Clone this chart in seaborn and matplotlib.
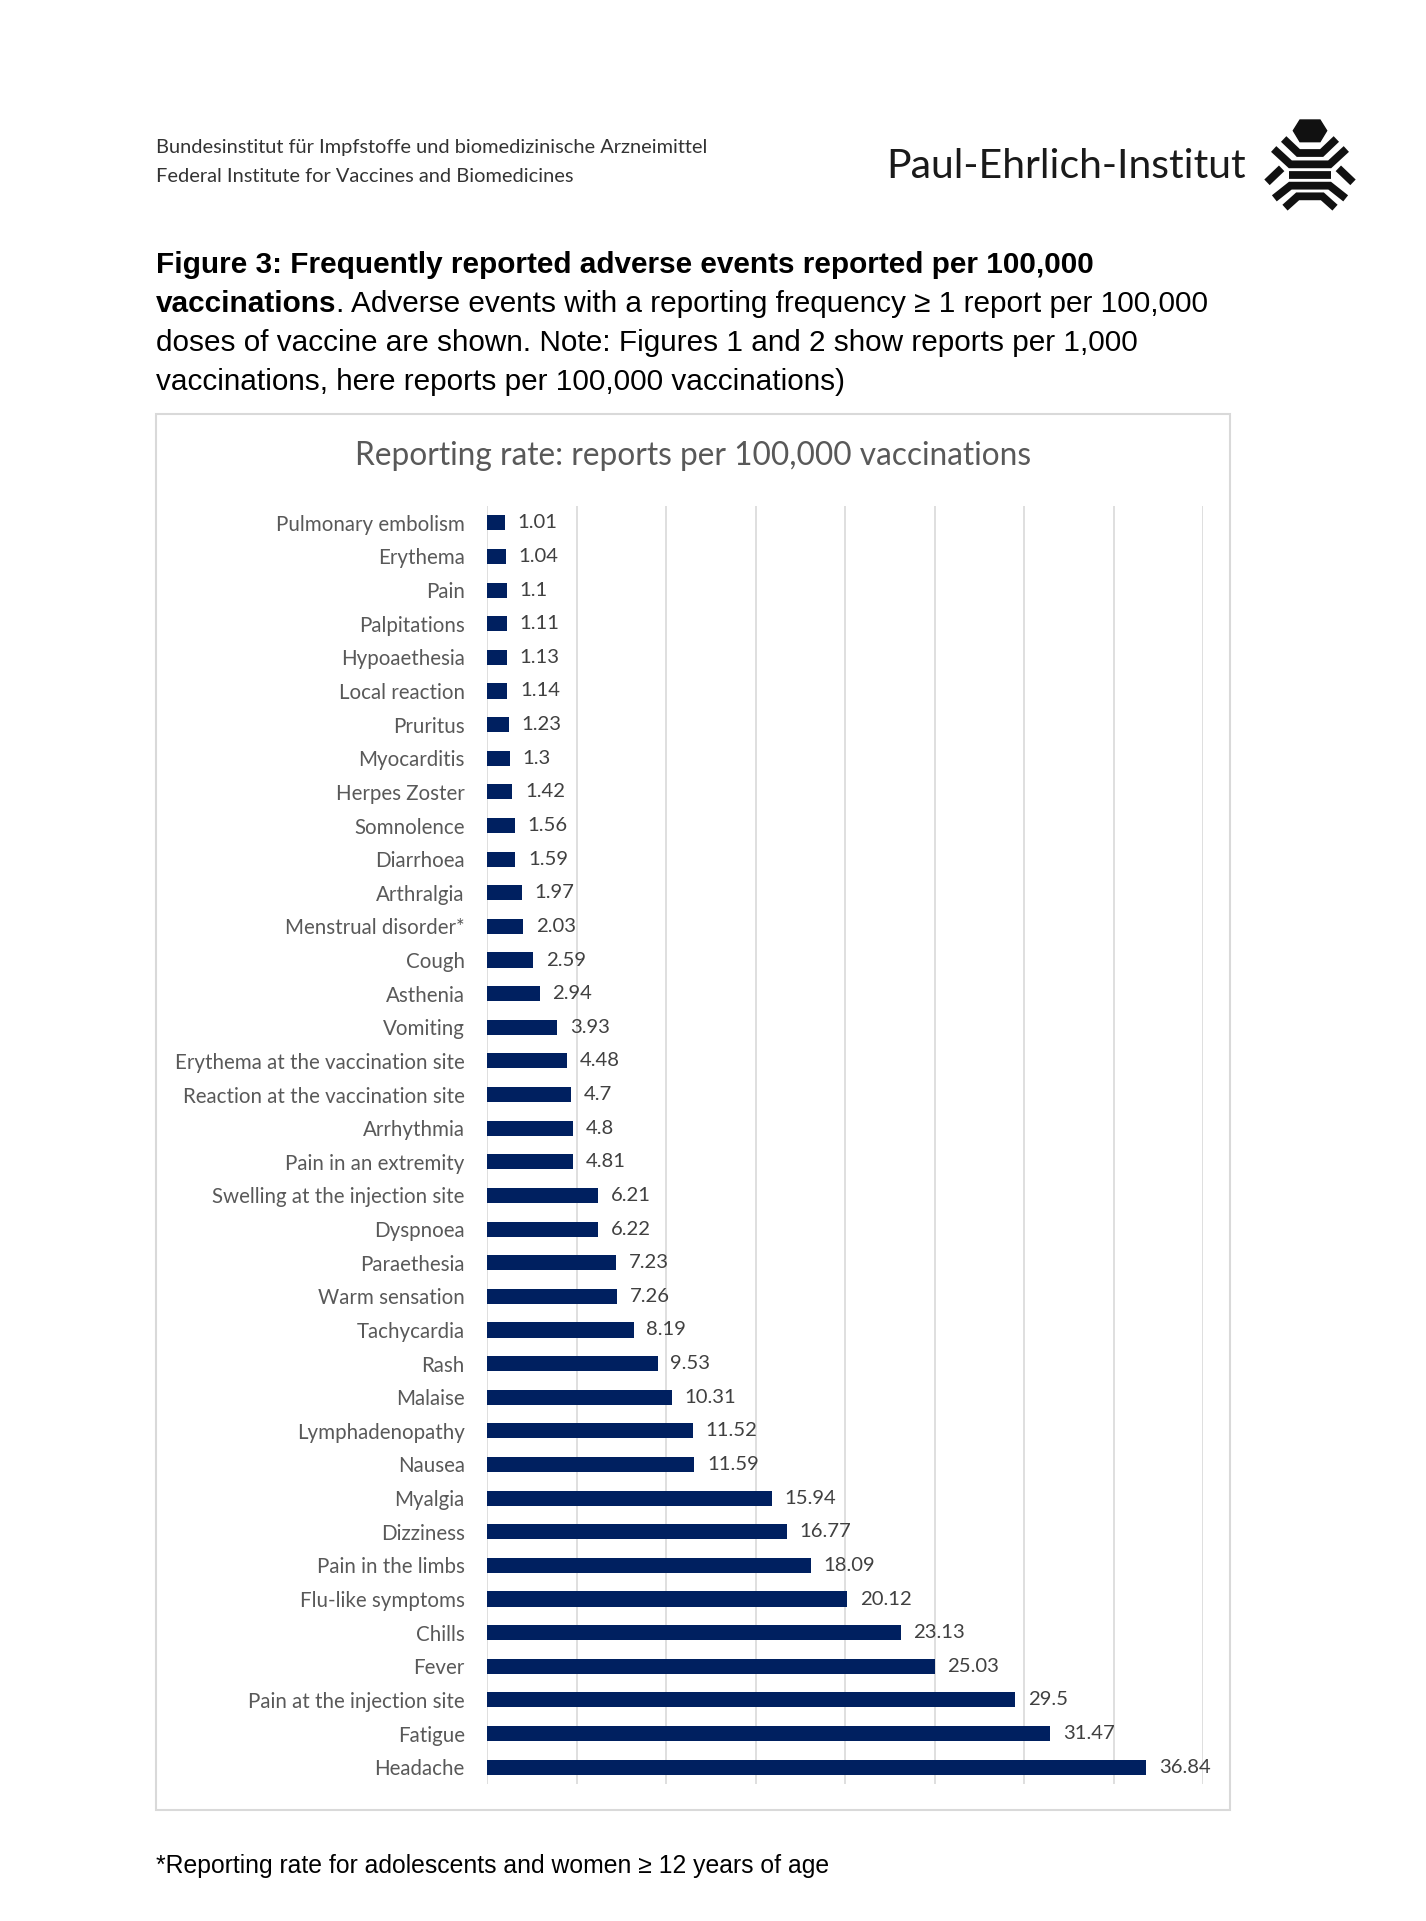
import matplotlib
matplotlib.use("Agg")
import matplotlib.pyplot as plt
import seaborn as sns
import pandas as pd
from matplotlib.patches import Rectangle, Polygon
from matplotlib.lines import Line2D

events = ["Pulmonary embolism", "Erythema", "Pain", "Palpitations", "Hypoaethesia",
          "Local reaction", "Pruritus", "Myocarditis", "Herpes Zoster", "Somnolence",
          "Diarrhoea", "Arthralgia", "Menstrual disorder*", "Cough", "Asthenia",
          "Vomiting", "Erythema at the vaccination site", "Reaction at the vaccination site",
          "Arrhythmia", "Pain in an extremity", "Swelling at the injection site", "Dyspnoea",
          "Paraethesia", "Warm sensation", "Tachycardia", "Rash", "Malaise",
          "Lymphadenopathy", "Nausea", "Myalgia", "Dizziness", "Pain in the limbs",
          "Flu-like symptoms", "Chills", "Fever", "Pain at the injection site",
          "Fatigue", "Headache"]
rates = [1.01, 1.04, 1.1, 1.11, 1.13, 1.14, 1.23, 1.3, 1.42, 1.56, 1.59, 1.97, 2.03,
         2.59, 2.94, 3.93, 4.48, 4.7, 4.8, 4.81, 6.21, 6.22, 7.23, 7.26, 8.19, 9.53,
         10.31, 11.52, 11.59, 15.94, 16.77, 18.09, 20.12, 23.13, 25.03, 29.5, 31.47, 36.84]

df = pd.DataFrame({"event": events, "rate": rates})

W, H = 1426, 1921
fig = plt.figure(figsize=(W / 100, H / 100), dpi=100)


def fx(x):
    return x / W


def fy(y):
    return 1 - y / H


# header
fig.text(fx(156), fy(147), "Bundesinstitut für Impfstoffe und biomedizinische Arzneimittel",
         family="Lato", fontsize=14.4, color="#333333", va="center")
fig.text(fx(156), fy(176), "Federal Institute for Vaccines and Biomedicines",
         family="Lato", fontsize=14.4, color="#333333", va="center")
fig.text(fx(886), fy(166), "Paul-Ehrlich-Institut", family="Lato", fontsize=29.5,
         color="#1a1a1a", va="center")

# logo
lax = fig.add_axes([fx(1255), fy(215), 110 / W, 100 / H])
lax.set_xlim(0, 330)
lax.set_ylim(300, 0)
lax.axis("off")
lax.add_patch(Polygon([(135, 15), (195, 15), (215, 47), (195, 80), (135, 80), (115, 47)],
                      closed=True, color="#111111"))
logo_lines = [
    [(86, 72), (130, 114), (200, 114), (244, 72)],
    [(56, 102), (106, 148), (224, 148), (274, 102)],
    [(102, 180), (228, 180)],
    [(36, 202), (80, 160)],
    [(250, 160), (294, 202)],
    [(58, 250), (106, 212), (224, 212), (272, 250)],
    [(90, 278), (128, 244), (202, 244), (240, 278)],
]
for pts in logo_lines:
    xs, ys = zip(*pts)
    lax.add_line(Line2D(xs, ys, color="#111111", lw=5.6, solid_joinstyle="miter",
                        solid_capstyle="butt"))

# caption
cap_size = 21.4
renderer = fig.canvas.get_renderer()
fig.text(fx(156), fy(265), "Figure 3: Frequently reported adverse events reported per 100,000",
         family="Liberation Sans", fontsize=cap_size, weight="bold", va="center")
t = fig.text(fx(156), fy(304), "vaccinations", family="Liberation Sans", fontsize=cap_size,
             weight="bold", va="center")
bb = t.get_window_extent(renderer)
fig.text(bb.x1 / W, fy(304), ". Adverse events with a reporting frequency ≥ 1 report per 100,000",
         family="Liberation Sans", fontsize=cap_size, va="center")
fig.text(fx(156), fy(343), "doses of vaccine are shown. Note: Figures 1 and 2 show reports per 1,000",
         family="Liberation Sans", fontsize=cap_size, va="center")
fig.text(fx(156), fy(382), "vaccinations, here reports per 100,000 vaccinations)",
         family="Liberation Sans", fontsize=cap_size, va="center")

# chart frame
fig.patches.append(Rectangle((fx(156), fy(1810)), 1074 / W, 1396 / H, transform=fig.transFigure,
                             fill=False, edgecolor="#d9d9d9", lw=1.5))
fig.text(fx(693), fy(456), "Reporting rate: reports per 100,000 vaccinations", family="Lato",
         fontsize=22.8, color="#595959", ha="center", va="center")

ax = fig.add_axes([fx(487), fy(1784), (1203 - 487) / W, (1784 - 506) / H])
sns.barplot(data=df, x="rate", y="event", orient="h", color="#002060", width=0.45,
            saturation=1, ax=ax, zorder=3)
ax.set_xlim(0, 40)
ax.set_xticks(range(0, 41, 5))
ax.set_xticklabels([])
ax.grid(axis="x", color="#d9d9d9", lw=1.2, zorder=0)
ax.set_axisbelow(True)
for s in ["top", "right", "bottom", "left"]:
    ax.spines[s].set_visible(False)
ax.set_xlabel("")
ax.set_ylabel("")
ax.tick_params(axis="x", length=0)
ax.tick_params(axis="y", length=0, pad=16, labelsize=14.8, labelcolor="#595959")
for lab in ax.get_yticklabels():
    lab.set_family("Lato")
ax.bar_label(ax.containers[0], labels=[f"{v:g}" for v in rates], padding=9,
             fontsize=14.6, color="#404040", family="Lato")

fig.text(fx(156), fy(1866), "*Reporting rate for adolescents and women ≥ 12 years of age",
         family="Liberation Sans", fontsize=17.8, va="center")

fig.savefig("out.png", dpi=100)
